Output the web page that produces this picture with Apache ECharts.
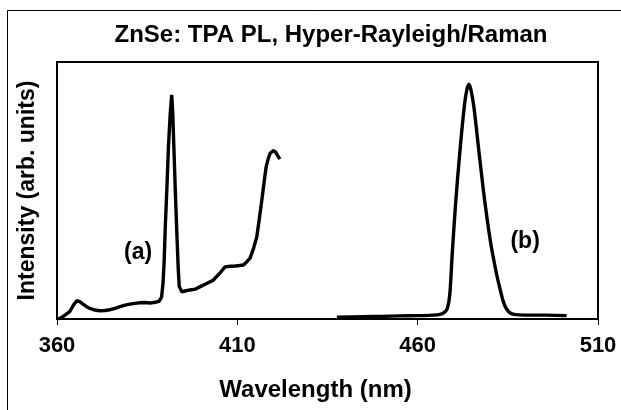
<!DOCTYPE html>
<html>
<head>
<meta charset="utf-8">
<script src="https://cdn.jsdelivr.net/npm/echarts@6/dist/echarts.min.js"></script>
<style>html,body{margin:0;padding:0;background:#fff;}#c{width:621px;height:410px;}</style>
</head>
<body>
<div id="c"></div>
<script>
// Curve (a): TPA PL + hyper-Rayleigh/Raman region
var aWavelength = [360.3,361.5,362.5,363.6,364.6,365.5,366.3,367.2,368.2,369.3,370.5,371.8,373.3,374.6,376.1,377.5,378.9,380.2,381.6,383.0,384.4,385.8,387.2,388.3,389.0,389.4,389.7,390.0,390.5,390.9,391.4,391.8,392.1,392.4,392.8,393.2,393.6,393.9,394.6,395.5,396.9,398.3,399.7,401.5,403.4,405.0,406.6,408.0,409.4,410.6,411.7,412.7,413.5,414.5,415.4,416.1,416.8,417.4,418.0,418.6,419.1,420.0,420.6,421.1,421.8];
var aIntensity  = [0,0.8,1.8,3.0,5.5,7.1,6.8,5.8,4.8,4.0,3.5,3.2,3.3,3.6,4.1,4.8,5.4,5.8,6.1,6.3,6.4,6.2,6.5,6.9,8.5,14,22,35,52,67,80,87.2,80,67,50,34.6,20,12.6,10.6,10.9,11.3,11.6,12.6,13.8,15.2,17.6,20.3,20.5,20.6,20.8,21.0,22.4,23.6,27.5,32,39,46.3,53,59.3,62.5,64.5,65.5,65,63.8,62.2];
// Curve (b): TPA photoluminescence
var bWavelength = [437.6,445,450,455,460,464,466.2,467.3,468.2,468.9,469.6,470.5,471.6,472.9,473.6,474.2,474.8,475.6,477.0,478.5,480.2,481.8,482.7,483.7,484.5,485.5,486.7,488,492,496,501.3];
var bIntensity  = [0.7,0.9,1.0,1.2,1.3,1.5,1.8,2.5,4,9.4,25.8,44.6,63.5,82.4,89,91.4,89,82.4,65,47,30,18,12.5,7,4.2,2.5,1.8,1.6,1.5,1.5,1.3];
var xTicks = [360, 410, 460, 510];
var labelA = {text: '(a)', x: 382.5, y: 25.7};
var labelB = {text: '(b)', x: 489.8, y: 30};

function pairs(xs, ys){ return xs.map(function(x,i){ return [x, ys[i]]; }); }

var chart = echarts.init(document.getElementById('c'), null, {renderer:'canvas'});
var font = 'Liberation Sans, Arial, sans-serif';
chart.setOption({
  animation: false,
  backgroundColor: '#fff',
  title: {
    text: 'ZnSe: TPA PL, Hyper-Rayleigh/Raman',
    left: 326, top: 18, textAlign: 'center',
    textStyle: {fontFamily: font, fontWeight: 'bold', fontSize: 24, color: '#000'}
  },
  grid: {left: 57, right: 23, top: 62, bottom: 91, show: true, borderColor: '#000', borderWidth: 2, backgroundColor: 'transparent'},
  xAxis: {
    type: 'value', min: 360, max: 510, interval: 50,
    name: 'Wavelength (nm)', nameLocation: 'middle', nameGap: 59,
    nameTextStyle: {fontFamily: font, fontWeight: 'bold', fontSize: 24, color: '#000', padding: [0, 24, 0, 0]},
    axisLine: {lineStyle: {color: '#000', width: 2}},
    axisTick: {show: true, inside: false, length: 6, lineStyle: {color: '#000', width: 1}},
    axisLabel: {fontFamily: font, fontWeight: 'bold', fontSize: 22, color: '#000', margin: 16,
      formatter: function(v){ return xTicks.indexOf(v) >= 0 ? String(v) : ''; }},
    splitLine: {show: false}
  },
  yAxis: {
    type: 'value', min: 0, max: 100,
    name: 'Intensity (arb. units)', nameLocation: 'middle', nameGap: 18,
    nameTextStyle: {fontFamily: font, fontWeight: 'bold', fontSize: 23, color: '#000'},
    axisLine: {show: true, lineStyle: {color: '#000', width: 2}},
    axisTick: {show: false}, axisLabel: {show: false}, splitLine: {show: false}
  },
  series: [
    {type: 'line', data: pairs(aWavelength, aIntensity), showSymbol: false, symbol: 'none',
     lineStyle: {color: '#000', width: 3.4}, z: 3,
     markPoint: {symbol: 'circle', symbolSize: 0, data: [{coord: [labelA.x, labelA.y], value: labelA.text}],
       label: {show: true, position: 'inside', formatter: labelA.text, fontFamily: font, fontWeight: 'bold', fontSize: 23, color: '#000'}}},
    {type: 'line', data: pairs(bWavelength, bIntensity), showSymbol: false, symbol: 'none', smooth: 0.3,
     lineStyle: {color: '#000', width: 3.4}, z: 3,
     markPoint: {symbol: 'circle', symbolSize: 0, data: [{coord: [labelB.x, labelB.y], value: labelB.text}],
       label: {show: true, position: 'inside', formatter: labelB.text, fontFamily: font, fontWeight: 'bold', fontSize: 23, color: '#000'}}}
  ],
  graphic: [
    {type: 'rect', shape: {x: 7.5, y: 10.5, width: 700, height: 500}, style: {fill: 'none', stroke: '#000', lineWidth: 1}, z: 0, silent: true}
  ]
});
</script>
</body>
</html>
